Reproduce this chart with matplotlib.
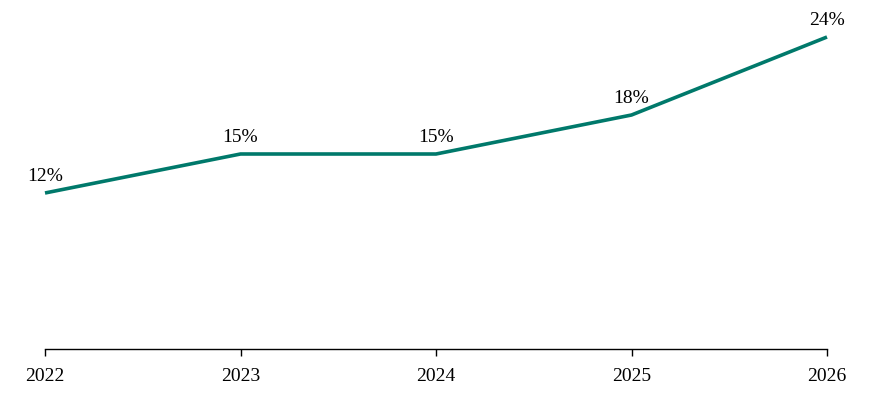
import matplotlib
matplotlib.use("Agg")
import matplotlib.pyplot as plt

years = [2022, 2023, 2024, 2025, 2026]
share = [12, 15, 15, 18, 24]
labels = ["12%", "15%", "15%", "18%", "24%"]

plt.rcParams['font.family'] = ['Liberation Serif', 'DejaVu Serif']

fig = plt.figure(figsize=(8.75, 3.97), dpi=100)
ax = fig.add_axes([45/875, 48/397, (827-45)/875, (349-24)/397])

ax.plot(years, share, color='#00796b', linewidth=2.6, solid_capstyle='butt', clip_on=False)
for x, y, t in zip(years, share, labels):
    ax.annotate(t, (x, y), xytext=(0, 5.5), textcoords='offset points',
                ha='center', va='bottom', fontsize=14, color='black')

ax.set_xlim(2022, 2026)
ax.set_ylim(0, 25)
ax.set_xticks(years)
ax.set_xticklabels([str(y) for y in years], fontsize=14)
ax.set_yticks([])
for s in ['top', 'right', 'left']:
    ax.spines[s].set_visible(False)
ax.spines['bottom'].set_linewidth(1)
ax.tick_params(axis='x', length=5, width=1, pad=9)

fig.savefig('out.png', dpi=100)
